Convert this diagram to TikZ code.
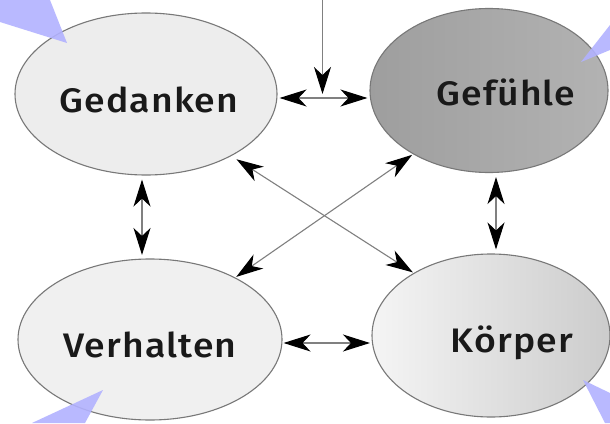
\documentclass[tikz,border=0pt]{standalone}
\usepackage{fontspec}
\usepackage{graphicx}
\setmainfont{Fira Sans}[UprightFont=* Medium, LetterSpace=3]
\usetikzlibrary{arrows.meta,shapes.geometric,calc}
\definecolor{ptr}{RGB}{178,178,255}
\definecolor{edge}{RGB}{120,120,120}
\newcommand{\widetext}[1]{\scalebox{1.1}[1]{#1}}
\begin{document}
\begin{tikzpicture}[x=1pt,y=-1pt,
  ell/.style={ellipse, draw=edge, line width=1.1pt, inner sep=0pt},
  lab/.style={font=\fontsize{34}{34}\selectfont, text=black!90, inner sep=0pt, anchor=base},
  arr/.style={draw=black!50, line width=1.1pt,
    {Stealth[length=27pt,width=17pt,inset=8pt,color=black,fill=black]}-{Stealth[length=27pt,width=17pt,inset=8pt,color=black,fill=black]}},
  arrone/.style={draw=black!50, line width=1.1pt, -{Stealth[length=27pt,width=17pt,inset=8pt,color=black,fill=black]}},
  pointer/.style={fill=ptr, draw=none, opacity=0.9}]
\useasboundingbox (0,0) rectangle (610,423);
\fill[white] (0,0) rectangle (610,423);
% ellipses
\node[ell, minimum width=262pt, minimum height=162pt, fill=black!7] (ged) at (146,94) {};
\node[ell, minimum width=238pt, minimum height=164pt, left color=black!38, right color=black!30] (gef) at (489,90.5) {};
\node[ell, minimum width=264pt, minimum height=161pt, fill=black!6] (verh) at (150,339.5) {};
\node[ell, minimum width=238pt, minimum height=163pt, left color=black!4, right color=black!20] (kor) at (491,335.5) {};
% labels
\node[lab] (tged) at (149,112) {\widetext{Gedanken}};
\node[lab] (tgef) at (506,105) {\widetext{Gefühle}};
\node[lab] (tverh) at (150,357) {\widetext{Verhalten}};
\node[lab] (tkor) at (512,352) {\widetext{Körper}};
% connectors
\coordinate (top) at (322.5,0);
\coordinate (h1) at ([yshift=-4pt]ged.east);
\coordinate (hm) at (top |- h1);
\draw[arr, shorten <=2pt, shorten >=2pt] (h1) -- (gef.west |- h1);
\draw[arrone] (top) -- ([yshift=4pt]hm);
\coordinate (v1) at ([xshift=-4pt]ged.south);
\draw[arr, shorten <=4pt, shorten >=3.5pt] (v1) -- (v1 |- verh.north);
\coordinate (v2) at ([xshift=7pt]gef.south);
\draw[arr, shorten <=4pt, shorten >=4pt] (v2) -- (v2 |- kor.north);
\coordinate (h2) at ([yshift=-3.5pt]verh.east);
\draw[arr, shorten <=1pt, shorten >=1.5pt] (h2) -- (kor.west |- h2);
\draw[arr, shorten <=6pt, shorten >=1pt] (ged.-36) -- (kor.141);
\draw[arr, shorten <=1pt, shorten >=1pt] (gef.220) -- (verh.36);
% pointers
\fill[pointer] (0,0) -- (50,0) -- (67,43) -- (0,22) -- cycle;
\fill[pointer] (581,62) -- (610,25) -- (610,50) -- cycle;
\fill[pointer] (103,390) -- (85,423) -- (32,423) -- cycle;
\fill[pointer] (583,380) -- (610,393) -- (610,423) -- (605,423) -- cycle;
\end{tikzpicture}
\end{document}
